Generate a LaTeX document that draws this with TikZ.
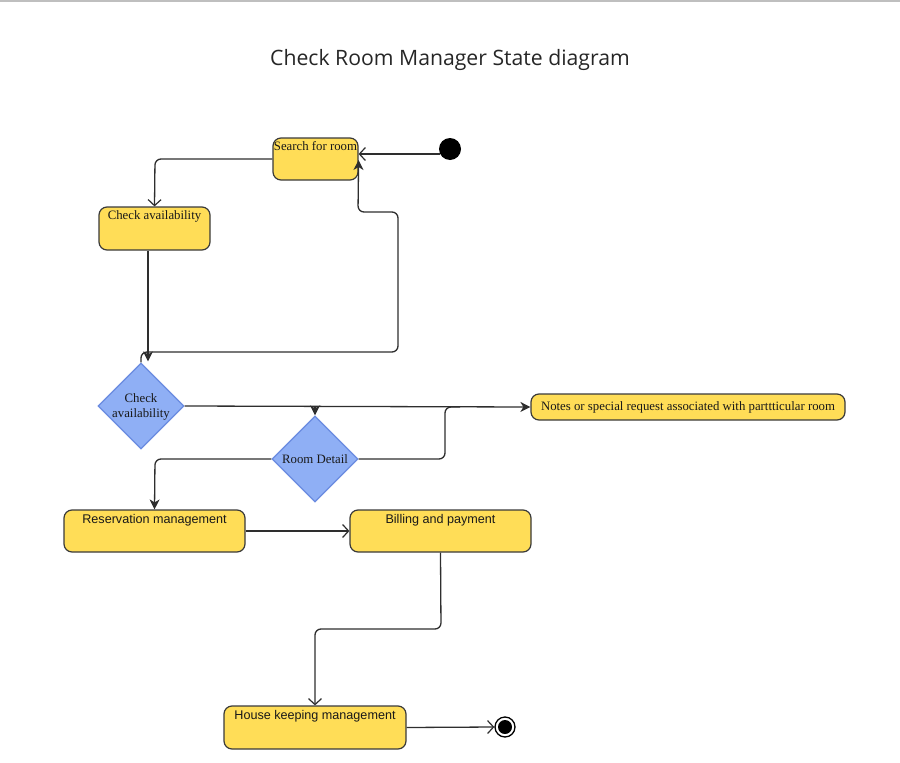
\documentclass[tikz,border=0pt]{standalone}
\usepackage{fontspec}
\setmainfont{Liberation Serif}
\setsansfont{Liberation Sans}
\newfontfamily\titlefont{Open Sans}
\usetikzlibrary{arrows.meta,shapes.geometric}
\definecolor{boxfill}{HTML}{FFDD57}
\definecolor{boxline}{HTML}{3A3A3A}
\definecolor{dfill}{HTML}{8FAFF5}
\definecolor{dline}{HTML}{6A8BE0}
\definecolor{lncol}{HTML}{2E2E2E}
\begin{document}
\begin{tikzpicture}[x=1pt,y=-1pt,
  stbox/.style={draw=boxline, fill=boxfill, line width=1.2pt, rounded corners=8pt, inner sep=0pt},
  dec/.style={diamond, draw=dline, fill=dfill, line width=1.2pt, inner sep=0pt, minimum width=86pt, minimum height=86pt},
  serlab/.style={font=\fontsize{12.8}{15}\selectfont, text=black!90},
  sanlab/.style={font=\sffamily\fontsize{12.6}{14}\selectfont, text=black!90},
  openarr/.style={draw=lncol, line width=1.3pt, -{Straight Barb[length=6pt,width=13pt,line width=1.2pt]}},
  fillarr/.style={draw=lncol, line width=1.3pt, -{Stealth[length=10pt,width=10pt,inset=3pt]}},
  conn/.style={draw=lncol, line width=1.3pt},
  rc/.style={rounded corners=6pt}]
\useasboundingbox (0,0) rectangle (900,763);
\draw[black!25, line width=1.2pt] (0,1) -- (900,1);
\node[font=\titlefont\fontsize{21.2}{25}\selectfont, text=black!85] (title) at (450,60) {Check Room Manager State diagram};

% nodes
\node[stbox, minimum width=85pt, minimum height=42pt,
  label={[serlab, anchor=north, yshift=-1pt]north:Search for room}] (s) at (315.5,159) {};
\node[circle, fill=black, minimum size=22pt, inner sep=0pt] (init) at (450,149) {};
\node[stbox, minimum width=111pt, minimum height=43pt,
  label={[serlab, anchor=north, yshift=-1pt]north:Check availability}] (cav) at (154.5,228.5) {};
\node[dec] (d1) at (141,406) {};
\node[serlab, align=center, inner sep=0pt] (d1t) at (141,407) {Check\\[0pt]availability};
\node[dec] (d2) at (315,459) {};
\node[serlab, inner sep=0pt] (d2t) at (315,459) {Room Detail};
\node[stbox, minimum width=314pt, minimum height=26pt, serlab, inner sep=0pt] (notes) at (688,407)
  {Notes or special request associated with parttticular room};
\node[stbox, minimum width=181pt, minimum height=42pt,
  label={[sanlab, anchor=north, yshift=-1pt]north:Reservation management}] (res) at (154.5,531) {};
\node[stbox, minimum width=181pt, minimum height=42pt,
  label={[sanlab, anchor=north, yshift=-1pt]north:Billing and payment}] (bill) at (440.5,531) {};
\node[stbox, minimum width=182pt, minimum height=43pt,
  label={[sanlab, anchor=north, yshift=-1pt]north:House keeping management}] (hk) at (315,727.5) {};
\node[circle, draw=black, fill=white, line width=1.3pt, minimum size=20pt, inner sep=0pt] (fin) at (505,727) {};
\node[circle, fill=black, minimum size=14pt, inner sep=0pt] (finin) at (505,727) {};

% connectors
\draw[openarr] ([xshift=1pt,yshift=-5pt]init.west) -- ([yshift=5pt]s.east);
\draw[openarr, rc] (s.west) -- (155,159) -- (cav.north);
\draw[fillarr] ([xshift=-6.5pt]cav.south) -- ([xshift=7pt,yshift=1pt]d1.north);
\draw[fillarr, rc] (d1.north) -- (141,352) -- (398,352) -- (398,212) -- (358,212) -- ([yshift=-1pt]s.east);
\draw[fillarr] (d1.east) -- (notes.west);
\coordinate (br) at (315,407);
\draw[fillarr] (br) -- (d2.north);
\draw[fillarr, rc] (d2.west) -- (155,459) -- (res.north);
\draw[conn, rc] (d2.east) -- (445,459) -- (445,407) -- (460,407);
\draw[openarr] (res.east) -- (bill.west);
\draw[openarr, rc] (bill.south) -- (441,629) -- (315,629) -- (hk.north);
\draw[openarr] (hk.east) -- (fin.west);
\end{tikzpicture}
\end{document}
